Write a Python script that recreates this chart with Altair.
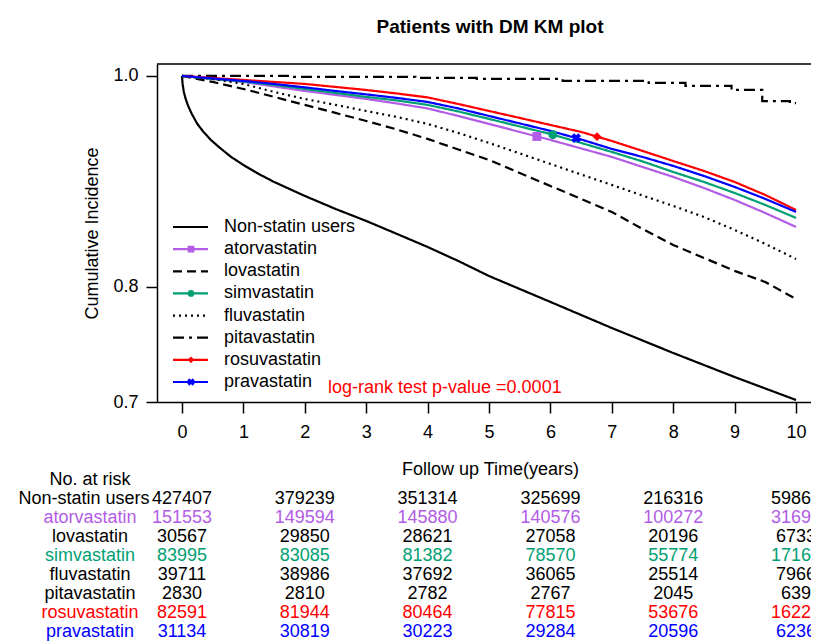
import altair as alt
import pandas as pd

FONT = "Liberation Sans, Arial, sans-serif"

series = ["Non-statin users", "atorvastatin", "lovastatin", "simvastatin",
          "fluvastatin", "pitavastatin", "rosuvastatin", "pravastatin"]
colors = ["#000000", "#B35CE6", "#000000", "#00A073", "#000000", "#000000", "#FF0000", "#0000FF"]
dashes = [[1, 0], [1, 0], [9, 5], [1, 0], [2, 4], [11, 5, 3, 5], [1, 0], [1, 0]]

# ---- KM curves (time in years, survival) ----
nonstatin_t = [0, 0.01, 0.03, 0.06, 0.1, 0.16, 0.25, 0.35, 0.47, 0.6, 0.8, 1.0, 1.25, 1.5, 1.75, 2.0,
               2.5, 3.0, 3.5, 4.0, 4.5, 5.0, 6.0, 7.0, 8.0, 9.0, 10.0]
nonstatin_v = [1.0, 0.9920, 0.9840, 0.9771, 0.9702, 0.9623, 0.9525, 0.9447, 0.9369, 0.9301, 0.9205, 0.9128,
               0.9042, 0.8966, 0.8900, 0.8834, 0.8712, 0.8600, 0.8480, 0.8360, 0.8232, 0.8096, 0.7864,
               0.7634, 0.7417, 0.7211, 0.7017]

statin_t = [0, 0.5, 1, 1.5, 2, 2.5, 3, 3.5, 4, 4.5, 5, 5.5, 6, 6.5, 7, 7.5, 8, 8.5, 9, 9.5, 10]
rosu_v = [1.0, 0.998, 0.996, 0.994, 0.992, 0.9890, 0.9860, 0.9825, 0.9786, 0.9721, 0.9652, 0.9584, 0.9515,
          0.9447, 0.9359, 0.9263, 0.9166, 0.9071, 0.8966, 0.8843, 0.8702]
prava_v = [1.0, 0.9975, 0.9950, 0.9920, 0.9886, 0.9850, 0.9816, 0.9781, 0.9741, 0.9677, 0.9603, 0.9530,
           0.9457, 0.9374, 0.9282, 0.9205, 0.9119, 0.9023, 0.8919, 0.8806, 0.8684]
simva_v = [1.0, 0.9970, 0.9945, 0.9910, 0.9870, 0.9830, 0.9791, 0.9756, 0.9712, 0.9647, 0.9574, 0.9500,
           0.9427, 0.9340, 0.9253, 0.9162, 0.9061, 0.8966, 0.8862, 0.8749, 0.8628]
atorva_v = [1.0, 0.9970, 0.9940, 0.9895, 0.9850, 0.9811, 0.9771, 0.9726, 0.9677, 0.9603, 0.9525, 0.9447,
            0.9369, 0.9287, 0.9205, 0.9109, 0.9014, 0.8909, 0.8796, 0.8674, 0.8544]
fluva_v = [1.0, 0.9970, 0.9920, 0.9840, 0.9771, 0.9712, 0.9652, 0.9593, 0.9525, 0.9437, 0.9340, 0.9239,
           0.9138, 0.9037, 0.8938, 0.8838, 0.8740, 0.8637, 0.8517, 0.8388, 0.8250]
lova_v = [1.0, 0.9940, 0.9870, 0.9791, 0.9712, 0.9633, 0.9554, 0.9471, 0.9379, 0.9277, 0.9176, 0.9052,
          0.8928, 0.8806, 0.8684, 0.8526, 0.8378, 0.8260, 0.8142, 0.8042, 0.7890]

pita_t = [0, 1.8, 1.8, 3.8, 3.8, 4.8, 4.8, 6.2, 6.2, 7.6, 7.6, 8.2, 8.2, 8.95, 8.95, 9.45, 9.45, 9.9, 9.9, 10]
pita_v = [1.0, 1.0, 0.999, 0.999, 0.998, 0.998, 0.997, 0.997, 0.995, 0.995, 0.993, 0.993, 0.990, 0.990,
          0.986, 0.986, 0.975, 0.975, 0.973, 0.973]

curve_t = {"Non-statin users": nonstatin_t, "atorvastatin": statin_t, "lovastatin": statin_t,
           "simvastatin": statin_t, "fluvastatin": statin_t, "pitavastatin": pita_t,
           "rosuvastatin": statin_t, "pravastatin": statin_t}
curve_v = {"Non-statin users": nonstatin_v, "atorvastatin": atorva_v, "lovastatin": lova_v,
           "simvastatin": simva_v, "fluvastatin": fluva_v, "pitavastatin": pita_v,
           "rosuvastatin": rosu_v, "pravastatin": prava_v}

# censor-style markers on four curves
marker_series = ["atorvastatin", "simvastatin", "rosuvastatin"]
marker_t = [5.78, 6.04, 6.76]
marker_v = [0.9403, 0.9420, 0.9401]
xmarker_series = ["pravastatin"]
xmarker_t = [6.42]
xmarker_v = [0.9387]

# ---- number at risk table ----
risk_times = [0, 2, 4, 6, 8, 10]
risk_counts = {
    "Non-statin users": [427407, 379239, 351314, 325699, 216316, 59862],
    "atorvastatin": [151553, 149594, 145880, 140576, 100272, 31699],
    "lovastatin": [30567, 29850, 28621, 27058, 20196, 6733],
    "simvastatin": [83995, 83085, 81382, 78570, 55774, 17160],
    "fluvastatin": [39711, 38986, 37692, 36065, 25514, 7966],
    "pitavastatin": [2830, 2810, 2782, 2767, 2045, 639],
    "rosuvastatin": [82591, 81944, 80464, 77815, 53676, 16228],
    "pravastatin": [31134, 30819, 30223, 29284, 20596, 6236],
}
risk_header = "No. at risk"
pvalue_text = "log-rank test p-value =0.0001"
title_text = "Patients with DM KM plot"

# ---- tables ----
rows = []
for s in series:
    for i, (t, v) in enumerate(zip(curve_t[s], curve_v[s])):
        rows.append({"series": s, "time": t, "value": v, "idx": i})
curves_df = pd.DataFrame(rows)
marker_df = pd.DataFrame({"series": marker_series, "time": marker_t, "value": marker_v})
xmarker_df = pd.DataFrame({"series": xmarker_series, "time": xmarker_t, "value": xmarker_v})
risk_df = pd.DataFrame([{"series": s, "time": t, "n": str(n)}
                        for s in series for t, n in zip(risk_times, risk_counts[s])])
leg_df = pd.DataFrame({"series": series})
header_df = pd.DataFrame({"series": [risk_header]})
pval_df = pd.DataFrame({"label": [pvalue_text]})
one_df = pd.DataFrame({"a": [0]})

W, H = 654, 338
xscale = alt.Scale(domain=[-0.407, 10.244], nice=False, zero=False)
xaxis = alt.Axis(values=list(range(11)), format="d", title="Follow up Time(years)",
                 tickSize=11, labelPadding=10, labelFlush=False,
                 titleX=333, titleY=67, titleAlign="center", titleBaseline="middle")
X = alt.X("time:Q", scale=xscale, axis=xaxis)
yscale = alt.Scale(type="sqrt", domain=[0.7, 1.012], nice=False, zero=False)
yaxis = alt.Axis(values=[0.7, 0.8, 1.0], format=".1f", title="Cumulative Incidence",
                 tickSize=11, labelPadding=8, titleX=-65, titleY=169, titleAngle=270,
                 titleAlign="center", titleBaseline="middle")
color = alt.Color("series:N", scale=alt.Scale(domain=series, range=colors), legend=None)
dash = alt.StrokeDash("series:N", scale=alt.Scale(domain=series, range=dashes), legend=None)
shape = alt.Shape("series:N", scale=alt.Scale(domain=marker_series, range=["square", "circle", "diamond"]),
                  legend=None)

lines = alt.Chart(curves_df).mark_line(strokeWidth=2.2, clip=True).encode(
    x=X, y=alt.Y("value:Q", scale=yscale, axis=yaxis), color=color, strokeDash=dash,
    order=alt.Order("idx:Q"))
markers = alt.Chart(marker_df).mark_point(filled=True, size=80, opacity=1).encode(
    x=X, y=alt.Y("value:Q", scale=yscale, axis=None), color=color, shape=shape)
xmarkers = alt.Chart(xmarker_df).mark_point(shape="cross", angle=45, filled=True, size=95, opacity=1).encode(
    x=X, y=alt.Y("value:Q", scale=yscale, axis=None), color=color)

top_line = alt.Chart(one_df).mark_rule(color="black", strokeWidth=1.5).encode(
    x=alt.value(0), x2=alt.value(W), y=alt.value(0))
pval = alt.Chart(pval_df).mark_text(align="left", baseline="middle", fontSize=18, font=FONT,
                                    color="#FF0000").encode(
    x=alt.value(171), y=alt.value(324), text="label:N")

# legend inside plot
leg_y = alt.Y("series:N", scale=alt.Scale(type="point", domain=series, range=[163, 318], padding=0), axis=None)
leg_lines = alt.Chart(leg_df).mark_rule(strokeWidth=2.2).encode(
    x=alt.value(16), x2=alt.value(51), y=leg_y, color=color, strokeDash=dash)
leg_mk = alt.Chart(leg_df).transform_filter(
    alt.FieldOneOfPredicate(field="series", oneOf=marker_series)
).mark_point(filled=True, size=45, opacity=1).encode(x=alt.value(34), y=leg_y, color=color, shape=shape)
leg_xmk = alt.Chart(leg_df).transform_filter(
    alt.FieldOneOfPredicate(field="series", oneOf=xmarker_series)
).mark_point(shape="cross", angle=45, filled=True, size=55, opacity=1).encode(
    x=alt.value(34), y=leg_y, color=color)
leg_txt = alt.Chart(leg_df).mark_text(align="left", baseline="middle", fontSize=18, font=FONT,
                                      color="black").encode(x=alt.value(67), y=leg_y, text="series:N")

# number-at-risk table
tab_rows = [risk_header] + series
tab_y = alt.Y("series:N", scale=alt.Scale(type="point", domain=tab_rows, range=[416, 568], padding=0), axis=None)
tab_num = alt.Chart(risk_df).mark_text(baseline="middle", fontSize=18, font=FONT).encode(
    x=X, y=tab_y, text="n:N", color=color)
tab_lab = alt.Chart(leg_df).transform_filter(
    alt.datum.series != series[0]
).mark_text(baseline="middle", align="center", fontSize=18, font=FONT).encode(
    x=alt.value(-67), y=tab_y, text="series:N", color=color)
tab_lab0 = alt.Chart(leg_df).transform_filter(
    alt.datum.series == series[0]
).mark_text(baseline="middle", align="center", fontSize=18, font=FONT).encode(
    x=alt.value(-73), y=tab_y, text="series:N", color=color)
tab_head = alt.Chart(header_df).mark_text(baseline="middle", align="center", fontSize=18, font=FONT,
                                          color="black").encode(x=alt.value(-67), y=tab_y, text="series:N")

chart = alt.layer(
    lines, markers, xmarkers, top_line, pval,
    leg_lines, leg_mk, leg_xmk, leg_txt,
    tab_num, tab_lab, tab_lab0, tab_head
).resolve_scale(y="independent").properties(
    width=W, height=H,
    autosize=alt.AutoSizeParams(type="none"),
    padding={"left": 149, "top": 56, "right": 0, "bottom": 239},
    title=alt.TitleParams(title_text, fontSize=19, fontWeight="bold", font=FONT, anchor="middle",
                          frame="group", offset=26, dx=6, color="black"),
).configure_view(stroke=None).configure_axis(
    labelFont=FONT, titleFont=FONT, labelFontSize=18, titleFontSize=18, titleFontWeight="normal",
    labelColor="black", titleColor="black", domainColor="black", tickColor="black",
    domainWidth=1.5, tickWidth=1.5, grid=False
)

chart.save("out.html", embed_options={"renderer": "svg", "actions": False})
